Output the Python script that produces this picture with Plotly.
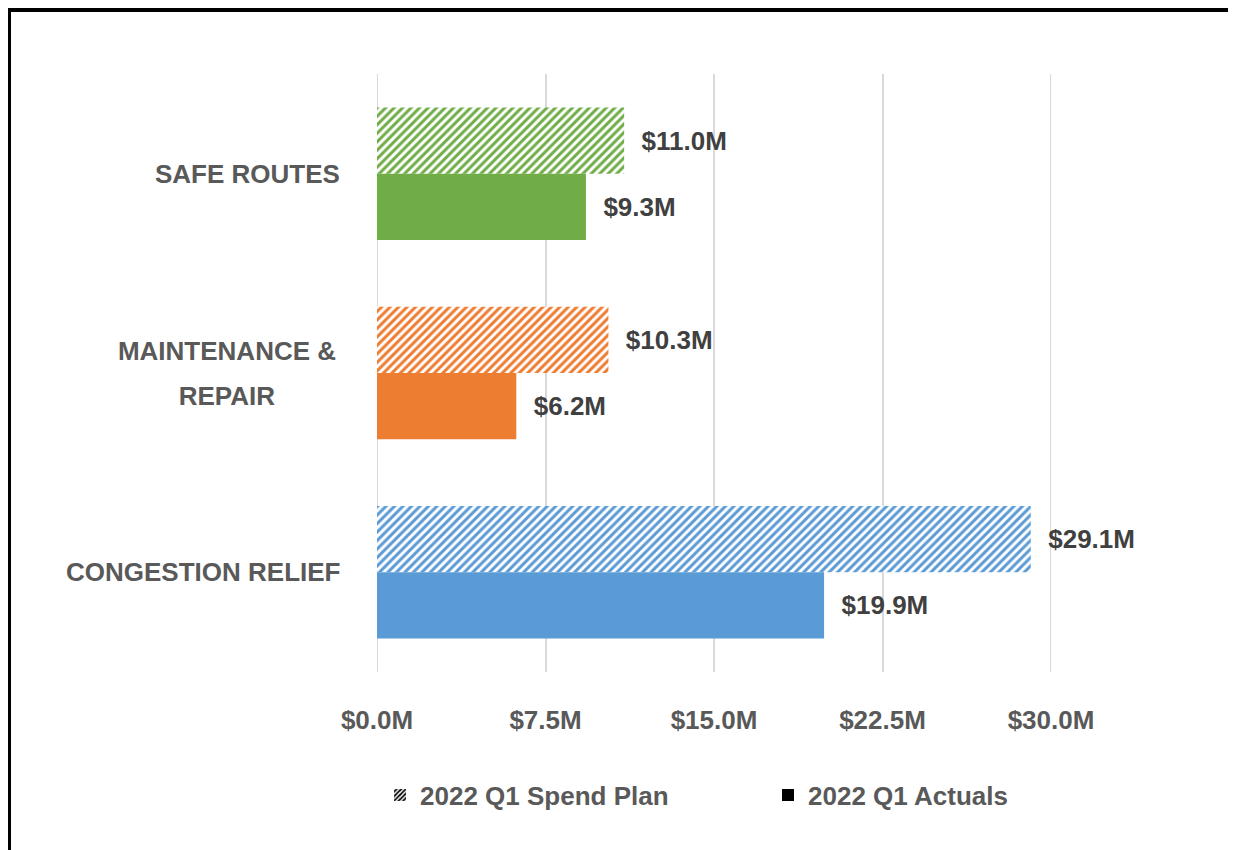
import plotly.graph_objects as go

# ---- data ----
categories = ["SAFE ROUTES", "MAINTENANCE &<br>REPAIR", "CONGESTION RELIEF"]
spend_plan = [11.0, 10.3, 29.1]
actuals = [9.3, 6.2, 19.9]
colors = ["#70AD47", "#ED7D31", "#5B9BD5"]
series_names = ["2022 Q1 Spend Plan", "2022 Q1 Actuals"]
tick_vals = [0, 7.5, 15, 22.5, 30]
tick_labels = ["$0.0M", "$7.5M", "$15.0M", "$22.5M", "$30.0M"]

FONT = "Liberation Sans, Arial, sans-serif"
OFF = 8  # page body margin
W, H = 1236 - OFF, 850 - OFF
# plot area in screen pixels: x 377..1051, y 74..672
ML, MT = 377 - OFF, 74 - OFF
MR, MB = 1236 - 1051, 850 - 672
PW, PH = W - ML - MR, H - MT - MB
GRID = "#D9D9D9"


def px_x(p):  # screen px -> paper x
    return (p - OFF - ML) / PW


def px_y(p):  # screen px -> paper y
    return (H - MB - (p - OFF)) / PH


label_font = dict(family=FONT, size=26, color="#404040", weight="bold")

fig = go.Figure()

# Spend plan (hatched)
fig.add_trace(go.Bar(
    y=categories, x=spend_plan, orientation="h", name=series_names[0],
    offsetgroup="plan", showlegend=False,
    marker=dict(color="white", line=dict(width=0),
                pattern=dict(shape="/", fillmode="replace", fgcolor=colors,
                             bgcolor="white", fgopacity=1,
                             size=6, solidity=0.5)),
    texttemplate="\u00a0\u00a0$%{x:.1f}M", textposition="outside",
    textfont=label_font, constraintext="none", cliponaxis=False,
    hoverinfo="skip",
))
# Actuals (solid)
fig.add_trace(go.Bar(
    y=categories, x=actuals, orientation="h", name=series_names[1],
    offsetgroup="actual", showlegend=False,
    marker=dict(color=colors, line=dict(width=0)),
    texttemplate="\u00a0\u00a0$%{x:.1f}M", textposition="outside",
    textfont=label_font, constraintext="none", cliponaxis=False,
    hoverinfo="skip",
))
# legend-only entries (black swatches)
fig.add_trace(go.Bar(
    y=[None], x=[None], orientation="h", name=series_names[0],
    offsetgroup="plan",
    marker=dict(color="white", line=dict(width=0),
                pattern=dict(shape="/", fillmode="replace", fgcolor="black",
                             bgcolor="white", fgopacity=1,
                             size=4, solidity=0.55)),
))
fig.add_trace(go.Bar(
    y=[None], x=[None], orientation="h", name=series_names[1],
    offsetgroup="actual",
    marker=dict(color="black", line=dict(width=0)),
))

# category labels
annotations = []
for cat in categories:
    lines = cat.split("<br>")
    n = len(lines)
    for j, line in enumerate(lines):
        ann = dict(
            x=px_x(342), xref="paper", y=cat, yref="y",
            xanchor="right", yanchor="middle", showarrow=False,
            text=line, yshift=((n - 1) / 2 - j) * 45,
            font=dict(family=FONT, size=26, color="#595959", weight="bold"),
        )
        if n > 1:
            ann.update(width=226, align="center")
        annotations.append(ann)

shapes = [
    # grid lines at the two ends of the value axis
    dict(type="line", xref="x", yref="paper", layer="below",
         x0=tick_vals[0], x1=tick_vals[0], y0=0, y1=1,
         line=dict(color=GRID, width=2)),
    dict(type="line", xref="x", yref="paper", layer="below",
         x0=tick_vals[-1], x1=tick_vals[-1], y0=0, y1=1,
         line=dict(color=GRID, width=2)),
    # frame
    dict(type="line", xref="paper", yref="paper",
         x0=px_x(3), x1=px_x(1250), y0=px_y(10), y1=px_y(10),
         line=dict(color="black", width=4)),
    dict(type="line", xref="paper", yref="paper",
         x0=px_x(9), x1=px_x(9), y0=px_y(8), y1=px_y(870),
         line=dict(color="black", width=4)),
]

fig.update_layout(
    width=W, height=H, autosize=False,
    margin=dict(l=ML, r=MR, t=MT, b=MB, pad=0),
    paper_bgcolor="white", plot_bgcolor="white",
    barmode="group", bargap=0.335, bargroupgap=0,
    font=dict(family=FONT, size=26, color="#595959"),
    xaxis=dict(
        range=[0, 30], tickvals=tick_vals, ticktext=tick_labels,
        showgrid=True, gridcolor=GRID, gridwidth=2,
        zeroline=False, showline=False, ticks="",
        tickfont=dict(family=FONT, size=26, color="#595959", weight="bold"),
        ticklabelstandoff=30, fixedrange=True,
    ),
    yaxis=dict(
        type="category", autorange="reversed", showticklabels=False,
        showgrid=False, zeroline=False, showline=False, ticks="",
        fixedrange=True,
    ),
    legend=dict(
        orientation="h", x=px_x(376), xanchor="left",
        y=px_y(795), yanchor="middle", indentation=4,
        font=dict(family=FONT, size=26, color="#595959", weight="bold"),
        entrywidth=339, bgcolor="rgba(0,0,0,0)",
    ),
    annotations=annotations,
    shapes=shapes,
    showlegend=True,
)

fig.write_html("out.html")
